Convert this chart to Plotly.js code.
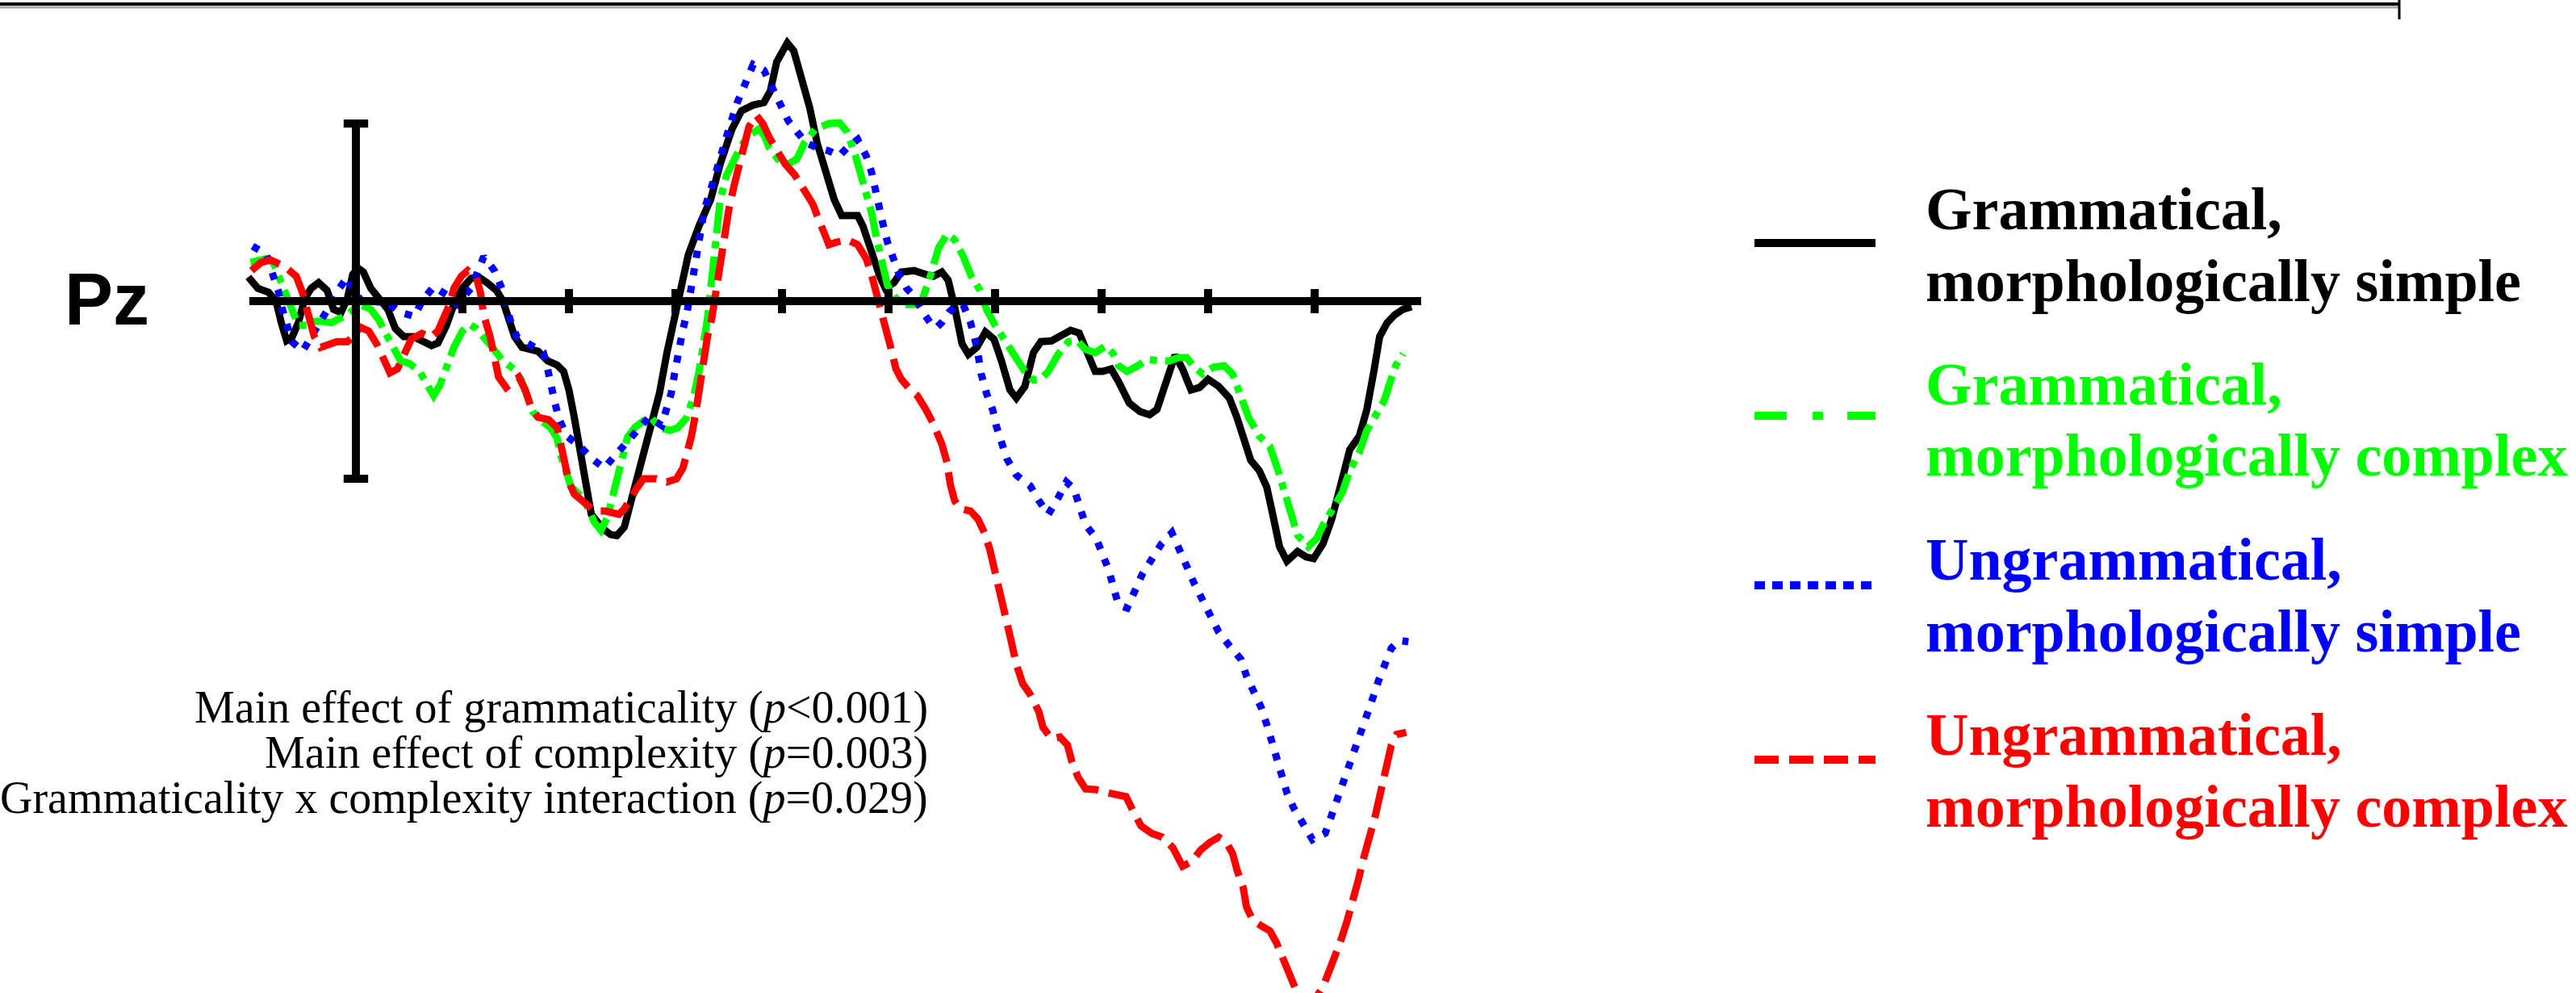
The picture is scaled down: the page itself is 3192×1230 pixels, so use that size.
<!DOCTYPE html>
<html>
<head>
<meta charset="utf-8">
<script src="https://cdn.plot.ly/plotly-3.0.1.min.js"></script>
<style>
html,body{margin:0;padding:0;background:#fff;}
#chart{width:3192px;height:1230px;}
</style>
</head>
<body>
<div id="chart"></div>
<script>
// ---- Data (time in ms, amplitude in µV, negative plotted up) ----
const seriesNames = [
  "Grammatical, morphologically simple",
  "Grammatical, morphologically complex",
  "Ungrammatical, morphologically simple",
  "Ungrammatical, morphologically complex"
];
const legendLine1 = ["Grammatical,", "Grammatical,", "Ungrammatical,", "Ungrammatical,"];
const legendLine2 = ["morphologically simple", "morphologically complex", "morphologically simple", "morphologically complex"];
const statLines = [
  "Main effect of grammaticality (<i>p</i><0.001)",
  "Main effect of complexity (<i>p</i>=0.003)",
  "Grammaticality x complexity interaction (<i>p</i>=0.029)"
];
const electrode = "Pz";
const tickTimes = [100, 200, 300, 400, 500, 600, 700, 800, 900];

const tBlack = [-101,-92,-82,-75,-70,-65,-60,-54,-48,-42,-35,-27,-21,-14,-8,-3,2,7,14,22,30,37,45,54,62,71,77,85,92,100,108,115,123,132,138,143,149,156,164,171,180,189,195,200,205,210,215,221,232,239,245,252,259,264,270,277,285,292,302,312,322,333,342,353,362,373,383,389,395,405,411,418,426,433,441,449,456,464,471,476,484,492,497,505,512,524,535,542,550,556,562,569,575,583,591,599,606,614,620,628,636,643,653,661,671,679,686,694,701,709,716,726,736,745,752,758,764,769,776,784,792,800,810,820,827,835,840,848,855,860,867,874,884,892,899,908,916,924,933,942,949,956,961,968,975,983,991];
const vBlack = [-0.68,-0.36,-0.25,0.0,0.61,1.11,1.02,0.61,-0.07,-0.36,-0.52,-0.30,0.23,0.32,-0.07,-0.75,-0.93,-0.82,-0.36,-0.07,0.23,0.77,1.0,1.0,1.11,1.25,1.18,0.68,0.09,-0.36,-0.64,-0.68,-0.52,-0.30,0.0,0.45,1.0,1.30,1.34,1.41,1.68,1.80,1.98,2.5,3.27,4.18,5.16,6.0,6.41,6.57,6.6,6.36,5.55,5.0,4.41,3.5,2.59,1.45,0.1,-1.3,-2.11,-2.86,-3.86,-4.84,-5.36,-5.52,-5.59,-5.91,-6.73,-7.27,-7.05,-6.36,-5.45,-4.45,-3.64,-2.86,-2.41,-2.39,-2.41,-2.11,-1.36,-0.68,-0.36,-0.52,-0.82,-0.86,-0.75,-0.70,-0.82,-0.59,0.16,1.2,1.5,1.3,0.87,1.07,1.68,2.5,2.73,2.4,1.45,1.14,1.12,1.0,0.82,0.9,1.45,1.98,1.98,1.91,2.27,2.87,3.11,3.2,3.05,2.5,1.82,1.52,1.91,2.5,2.43,2.2,2.4,2.73,3.27,4.02,4.48,4.77,5.23,5.91,6.91,7.32,7.05,7.2,7.25,6.82,6.14,5.23,4.18,3.8,3.05,1.91,1.0,0.61,0.39,0.23,0.16];

const tGreen = [-99,-90,-83,-77,-71,-66,-60,-54,-46,-39,-31,-23,-16,-8,-2,5,14,22,28,36,42,50,60,67,73,79,85,92,100,107,113,120,128,138,148,155,161,166,173,183,189,192,198,202,210,217,224,230,236,242,246,250,255,262,270,278,285,295,302,310,317,322,326,330,334,338,342,348,355,362,370,378,383,388,396,406,414,421,431,444,454,461,469,476,484,489,494,499,507,517,524,532,539,547,555,562,570,577,586,592,600,608,618,628,636,643,650,659,669,677,685,694,704,711,716,724,734,743,754,764,772,780,787,795,805,815,823,830,838,848,858,865,872,878,884,894,902,908,918,926,933,942,949,958,965,970,976,983];
const vGreen = [-1.09,-1.16,-1.2,-1.05,-0.59,-0.14,0.32,0.68,0.68,0.57,0.57,0.61,0.50,0.39,0.23,0.11,0.23,0.55,0.91,1.36,1.68,1.75,1.98,2.36,2.66,2.36,1.91,1.30,0.84,0.66,0.77,1.0,1.3,1.68,1.91,2.2,2.73,3.11,3.34,3.57,3.86,4.32,4.86,5.23,5.45,5.77,6.23,6.45,6.1,5.4,4.8,4.3,3.83,3.55,3.37,3.3,3.57,3.64,3.57,3.3,2.7,2.0,1.3,0.5,-0.6,-1.75,-2.86,-3.55,-4.0,-4.39,-4.68,-4.84,-4.68,-4.32,-4.0,-3.86,-4.0,-4.45,-4.84,-5.0,-5.02,-4.77,-4.09,-3.41,-2.5,-1.73,-1.05,-0.45,-0.07,0.09,0.09,-0.07,-0.68,-1.5,-1.89,-1.73,-1.27,-0.75,-0.30,0.23,0.68,1.07,1.59,1.98,2.22,2.2,1.98,1.5,1.14,1.11,1.36,1.45,1.26,1.48,1.82,1.98,1.82,1.64,1.68,1.68,1.59,1.59,1.86,2.05,1.86,1.82,2.05,2.66,3.27,3.8,4.09,4.7,5.39,6.07,6.59,6.91,6.68,6.3,5.84,5.39,4.77,4.25,3.64,3.18,2.82,2.36,1.82,1.48];

const tBlue = [-97,-84,-78,-73,-69,-64,-60,-50,-41,-33,-25,-17,-8,-1,7,14,30,42,55,62,73,85,95,108,120,130,137,141,145,151,164,176,180,183,187,191,198,210,221,233,244,256,266,275,287,292,296,300,304,307,311,315,320,327,335,342,350,358,365,373,383,391,398,406,414,423,433,444,454,461,471,479,484,489,494,499,505,510,517,524,532,539,545,550,557,564,570,577,583,587,592,598,601,605,611,620,633,641,650,659,667,674,680,685,695,702,707,711,716,724,732,738,747,756,766,774,780,787,795,803,810,820,831,836,843,850,855,860,864,869,874,880,888,898,910,916,922,927,933,938,943,949,955,960,966,972,980,988];
const vBlue = [-1.55,-1.32,-0.75,-0.30,0.23,0.68,1.14,1.41,1.0,0.55,0.16,-0.30,-0.68,-0.23,0.05,0.0,0.05,0.32,0.43,0.0,-0.41,-0.18,0.09,-0.36,-1.25,-0.86,-0.36,0.09,0.55,1.0,1.25,1.45,1.91,2.43,2.89,3.34,3.8,4.08,4.42,4.7,4.32,3.9,3.55,3.27,3.5,3.0,2.59,1.9,1.2,0.8,0.3,-0.5,-1.5,-2.57,-3.32,-4.09,-4.84,-5.59,-6.14,-6.66,-6.5,-5.98,-5.52,-5.07,-4.77,-4.45,-4.32,-4.23,-4.09,-4.32,-4.55,-4.09,-3.64,-2.86,-2.27,-1.66,-1.2,-0.75,-0.36,-0.14,0.3,0.6,0.75,0.6,0.3,0.12,0.09,0.61,1.3,2.05,2.6,3.08,3.5,3.95,4.43,4.9,5.2,5.61,6.0,5.55,5.09,5.28,5.8,6.3,6.68,7.14,7.59,8.05,8.55,8.64,8.15,7.7,7.27,6.84,6.52,7.0,7.47,7.95,8.41,8.86,9.32,9.7,10.09,10.55,11.0,11.45,11.91,12.43,12.89,13.34,13.84,14.25,14.7,15.16,14.98,14.48,14.02,13.52,13.05,12.59,12.14,11.64,11.14,10.68,10.23,9.77,9.55,9.59];

const tRed = [-98,-89,-80,-74,-67,-56,-50,-46,-42,-39,-33,-26,-18,-8,-2,4,12,20,26,32,39,47,52,62,70,77,83,88,92,99,105,113,117,120,126,130,134,141,148,153,159,164,171,181,189,192,196,200,205,214,224,234,242,247,252,258,264,270,282,292,301,307,311,315,319,322,327,330,334,337,340,345,350,355,360,365,369,376,382,388,396,403,412,421,429,433,439,444,451,461,471,479,484,489,492,497,502,507,512,520,527,535,542,550,555,558,562,567,577,584,590,595,600,605,610,615,620,626,633,641,645,653,661,668,672,678,685,694,709,723,729,737,747,757,767,776,785,793,802,810,817,823,827,833,836,842,850,858,864,870,876,883,890,898,908,916,924,930,936,941,946,952,957,961,965,968,972,977,986];
const vRed = [-0.86,-1.09,-1.16,-1.1,-0.98,-0.70,-0.23,0.23,0.61,1.0,1.3,1.2,1.14,1.14,1.0,0.73,0.84,1.23,1.68,2.02,1.91,1.45,1.07,0.91,1.02,0.84,0.45,0.09,-0.36,-0.70,-0.86,-0.68,-0.23,0.39,1.0,1.59,2.14,2.43,2.27,2.14,2.5,2.95,3.27,3.34,3.57,4.02,4.64,5.09,5.43,5.68,5.91,5.91,5.95,6.0,5.85,5.5,5.25,5.0,5.0,5.09,5.0,4.7,4.32,3.8,3.15,2.5,1.5,1.0,0.5,-0.1,-0.9,-1.82,-2.57,-3.25,-3.86,-4.55,-4.91,-5.23,-5.0,-4.61,-4.16,-3.86,-3.55,-3.09,-2.73,-2.41,-1.95,-1.59,-1.66,-1.73,-1.59,-1.2,-0.75,-0.23,0.16,0.7,1.3,1.91,2.2,2.48,2.66,3.05,3.45,4.02,4.55,5.16,5.61,5.84,5.91,6.14,6.52,6.98,7.59,8.18,8.86,9.55,10.23,10.77,11.07,11.55,12.0,12.32,12.27,12.5,12.95,13.41,13.73,13.75,13.86,13.95,14.32,14.77,14.98,15.09,15.39,15.91,15.77,15.45,15.23,15.09,15.23,15.55,16.0,16.52,17.05,17.43,17.59,17.73,18.05,18.5,19.02,19.43,19.8,19.75,19.3,18.73,18.05,17.5,16.93,16.3,15.68,15.09,14.48,13.95,13.41,12.95,12.5,12.2,12.14];

// ---- Styles ----
const colors = ["#000000", "#00ff00", "#0000ff", "#ff0000"];
const curveDash = ["solid", "38px,10px,9px,10px", "9px,13px", "40px,13px"];
const legendDash = ["solid", "40px,32px,13px,30px", "13px,9px", "30px,13px"];
const curveWidth = [9, 9, 9, 9];

const W = 3192, H = 1230;
// pixel mapping: X = 441 + 1.32*t ; Y = 373 + 44*v
const xRange = [-441/1.32, (W-441)/1.32];
const yRange = [(H-373)/44, -373/44];

const ts = [tBlack, tGreen, tBlue, tRed];
const vs = [vBlack, vGreen, vBlue, vRed];
const traces = ts.map((t, i) => ({
  x: t, y: vs[i], type: "scatter", mode: "lines", name: seriesNames[i],
  line: {color: colors[i], width: curveWidth[i], dash: curveDash[i], shape: "linear"},
  hoverinfo: "skip"
}));

const shapes = [];
// horizontal time axis
shapes.push({type:"line", xref:"x", yref:"y", x0:-100, x1:1000, y0:0, y1:0, line:{color:"#000", width:10}});
// vertical amplitude bar with caps
shapes.push({type:"line", xref:"x", yref:"y", x0:0, x1:0, y0:-5, y1:5, line:{color:"#000", width:10}});
[-5, 5].forEach(v => shapes.push({type:"line", xref:"x", yref:"y", x0:-11.5, x1:11.5, y0:v, y1:v, line:{color:"#000", width:10}}));
// tick marks
tickTimes.forEach(tt => shapes.push({type:"line", xref:"x", yref:"y", x0:tt, x1:tt, y0:-0.34, y1:0.34, line:{color:"#000", width:10}}));
// top rule
shapes.push({type:"line", xref:"paper", yref:"paper", x0:0, x1:2973/W, y0:1-9/H, y1:1-9/H, line:{color:"#aaaaaa", width:3}});
shapes.push({type:"line", xref:"paper", yref:"paper", x0:0, x1:2973/W, y0:1-5/H, y1:1-5/H, line:{color:"#000", width:4}});
shapes.push({type:"line", xref:"paper", yref:"paper", x0:2973/W, x1:2973/W, y0:1, y1:1-24/H, line:{color:"#000", width:3}});

// legend samples and texts
const legY = [301, 515, 725, 941];
const legText1Y = [259, 476, 693, 910];
const legText2Y = [348, 564, 782, 999];
const annotations = [];
legY.forEach((y, i) => {
  shapes.push({type:"line", xref:"paper", yref:"paper", x0:2174/W, x1:2324/W, y0:1-y/H, y1:1-y/H,
    line:{color:colors[i], width:10, dash:legendDash[i]}});
  annotations.push({xref:"paper", yref:"paper", x:2384/W, y:1-legText1Y[i]/H, xanchor:"left", yanchor:"middle",
    text:"<b>"+legendLine1[i]+"</b>", showarrow:false,
    font:{family:"Liberation Serif, Times New Roman, serif", size:74, color:colors[i]}});
  annotations.push({xref:"paper", yref:"paper", x:2384/W, y:1-legText2Y[i]/H, xanchor:"left", yanchor:"middle",
    text:"<b>"+legendLine2[i]+"</b>", showarrow:false,
    font:{family:"Liberation Serif, Times New Roman, serif", size:74, color:colors[i]}});
});

// statistics text
const statY = [876, 932, 988];
statLines.forEach((s, i) => annotations.push({xref:"paper", yref:"paper", x:1152/W, y:1-statY[i]/H,
  xanchor:"right", yanchor:"middle", text:s, showarrow:false,
  font:{family:"Liberation Serif, Times New Roman, serif", size:56, color:"#000"}}));

// electrode label
annotations.push({xref:"paper", yref:"paper", x:78/W, y:1-371/H, xanchor:"left", yanchor:"middle",
  text:"<b>"+electrode+"</b>", showarrow:false,
  font:{family:"Liberation Sans, Arial, sans-serif", size:90, color:"#000"}});

const layout = {
  width: W, height: H,
  margin: {l:0, r:0, t:0, b:0, pad:0},
  paper_bgcolor: "#ffffff", plot_bgcolor: "#ffffff",
  showlegend: false,
  xaxis: {range: xRange, visible: false, fixedrange: true},
  yaxis: {range: yRange, visible: false, fixedrange: true},
  shapes: shapes,
  annotations: annotations
};

Plotly.newPlot("chart", traces, layout, {displayModeBar:false, staticPlot:true});
</script>
</body>
</html>
